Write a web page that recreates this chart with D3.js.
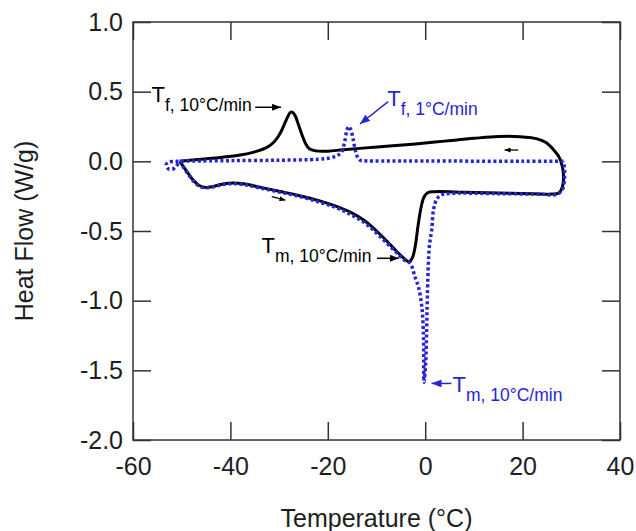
<!DOCTYPE html>
<html>
<head>
<meta charset="utf-8">
<script src="https://cdn.jsdelivr.net/npm/d3@7"></script>
<style>
  body { margin: 0; background: #fff; }
</style>
</head>
<body>
<div id="chart"></div>
<script>
// tick values
var xTicks = [-60, -40, -20, 0, 20, 40]
var yTicks = [-2.0, -1.5, -1.0, -0.5, 0.0, 0.5, 1.0]

// 10°C/min run (solid black): heating from -50 up to 28, then cooling back
var rate10Temp = [-50.4, -49.6, -48.6, -47.5, -46.3, -45, -43.5, -41.5, -39.5, -37, -34, -30, -26, -22, -18.5, -15.4, -12.5, -10, -7.8, -5.9, -4.4, -3.3, -2.6, -2.0, -1.5, -0.9, -0.3, 0.5, 2, 8, 15, 22, 26, 27.5, 28.2, 28.4, 28.1, 27.5,
  26.3, 24.8, 22.8, 19.5, 15, 10, 4, -2, -8, -13.4, -17, -20, -22.5, -23.8, -24.6, -25.3, -26.0, -26.6, -27.2, -27.7, -28.3, -29.0, -29.8, -31, -32.5, -35, -38, -42, -46, -50.4]
var rate10Flow = [0.0, -0.04, -0.09, -0.14, -0.175, -0.188, -0.18, -0.162, -0.155, -0.163, -0.185, -0.215, -0.245, -0.28, -0.32, -0.365, -0.425, -0.5, -0.575, -0.645, -0.695, -0.72, -0.69, -0.6, -0.47, -0.34, -0.26, -0.225, -0.218, -0.222, -0.228, -0.232, -0.235, -0.225, -0.18, -0.1, -0.03, 0.03,
  0.085, 0.135, 0.163, 0.177, 0.178, 0.165, 0.145, 0.125, 0.108, 0.093, 0.083, 0.073, 0.075, 0.09, 0.13, 0.19, 0.26, 0.32, 0.352, 0.35, 0.315, 0.26, 0.2, 0.14, 0.1, 0.068, 0.045, 0.028, 0.015, 0.0]

// 1°C/min run (dotted blue): cooling from 28 down to -53, then heating back
var rate1Temp = [28.4, 20, 5, -5, -12, -13.5, -14.2, -14.8, -15.3, -15.7, -16.1, -16.6, -17.2, -18.2, -19.5, -22, -30, -40, -48, -51, -52.6, -53.2, -52.7, -51.8, -51.0, -50.4,
  -49.6, -48.6, -47.5, -46.3, -45, -43.5, -41.5, -39.5, -37, -34, -30, -26, -22, -18.5, -15.4, -12.5, -10, -7.8, -5.9, -4.2, -3.1, -2.1, -1.4, -0.7, -0.4, -0.3, -0.25,
  0.1, 0.3, 0.45, 0.85, 1.35, 1.7, 2.4, 3.4, 5.1, 15, 24, 27, 28.2, 28.6, 28.6, 28.4]
var rate1Flow = [0.0, 0.0, 0.002, 0.003, 0.003, 0.01, 0.06, 0.16, 0.23, 0.25, 0.22, 0.13, 0.065, 0.04, 0.025, 0.015, 0.008, 0.005, 0.002, 0.0, -0.005, -0.025, -0.055, -0.055, -0.03, 0.0,
  -0.045, -0.095, -0.145, -0.18, -0.19, -0.183, -0.166, -0.16, -0.168, -0.19, -0.22, -0.25, -0.29, -0.33, -0.38, -0.44, -0.515, -0.59, -0.655, -0.71, -0.73, -0.83, -0.9, -1.04, -1.21, -1.4, -1.585,
  -1.45, -1.21, -0.97, -0.61, -0.49, -0.35, -0.27, -0.24, -0.23, -0.232, -0.236, -0.238, -0.2, -0.12, -0.05, 0.0]

/**
 * 常量
 */
var width = 636
var height = 531
var margin = { top: 22, right: 16, bottom: 91, left: 133 }
var black = '#000'
var blue = '#2626d2'
var axisColor = '#333'
var textColor = '#1e1e1e'
var fontFamily = '"Liberation Sans", Arial, Helvetica, sans-serif'
var tickLen = 18

/**
 * 比例尺
 */
var x = d3.scaleLinear()
  .domain([-60, 40])
  .range([margin.left, width - margin.right])

var y = d3.scaleLinear()
  .domain([-2, 1])
  .range([height - margin.bottom, margin.top])

var svg = d3.select('#chart')
  .append('svg')
  .attr('width', width)
  .attr('height', height)
  .style('font-family', fontFamily)

// arrow heads
var defs = svg.append('defs')
function arrowMarker(id, color, w, h) {
  defs.append('marker')
    .attr('id', id)
    .attr('markerUnits', 'userSpaceOnUse')
    .attr('markerWidth', w)
    .attr('markerHeight', h)
    .attr('refX', w)
    .attr('refY', h / 2)
    .attr('orient', 'auto')
    .append('path')
    .attr('d', `M0,0 L${w},${h / 2} L0,${h} Z`)
    .attr('fill', color)
}
arrowMarker('headBlack', black, 9, 7)
arrowMarker('headBlue', blue, 10, 8)
arrowMarker('headSmall', black, 6, 5)

/**
 * 坐标轴 (ticks inward on all four sides)
 */
function styleAxis(g) {
  g.select('.domain').remove()
  g.selectAll('.tick line').attr('stroke', axisColor).attr('stroke-width', 1.5)
  g.selectAll('.tick text')
    .attr('fill', textColor)
    .attr('font-size', 25)
    .attr('font-family', fontFamily)
}

svg.append('g')
  .attr('transform', `translate(0,${y(-2)})`)
  .call(d3.axisBottom(x).tickValues(xTicks).tickSize(-tickLen).tickPadding(17).tickFormat(d => String(d)))
  .call(styleAxis)

svg.append('g')
  .attr('transform', `translate(0,${y(1)})`)
  .call(d3.axisTop(x).tickValues(xTicks).tickSize(-tickLen).tickFormat(''))
  .call(styleAxis)

svg.append('g')
  .attr('transform', `translate(${x(-60)},0)`)
  .call(d3.axisLeft(y).tickValues(yTicks).tickSize(-tickLen).tickPadding(10).tickFormat(d => d.toFixed(1)))
  .call(styleAxis)

svg.append('g')
  .attr('transform', `translate(${x(40)},0)`)
  .call(d3.axisRight(y).tickValues(yTicks).tickSize(-tickLen).tickFormat(''))
  .call(styleAxis)

// frame
svg.append('rect')
  .attr('x', x(-60))
  .attr('y', y(1))
  .attr('width', x(40) - x(-60))
  .attr('height', y(-2) - y(1))
  .attr('fill', 'none')
  .attr('stroke', axisColor)
  .attr('stroke-width', 1.5)

/**
 * 曲线
 */
var line = d3.line()
  .x(d => x(d[0]))
  .y(d => y(d[1]))
  .curve(d3.curveCatmullRom.alpha(0.5))

svg.append('path')
  .attr('d', line(d3.zip(rate10Temp, rate10Flow)))
  .attr('fill', 'none')
  .attr('stroke', black)
  .attr('stroke-width', 3)
  .attr('stroke-linejoin', 'round')

svg.append('path')
  .attr('d', line(d3.zip(rate1Temp, rate1Flow)))
  .attr('fill', 'none')
  .attr('stroke', blue)
  .attr('stroke-width', 3.5)
  .attr('stroke-dasharray', '3,2.6')

/**
 * 标注
 */
var labels = [
  { sub: 'f, 10°C/min', at: [-56.2, 0.428], color: black, from: [-34.9, 0.388], to: [-29.6, 0.388], head: 'headBlack' },
  { sub: 'f, 1°C/min', at: [-7.8, 0.397], color: blue, from: [-7.6, 0.428], to: [-13.4, 0.268], head: 'headBlue' },
  { sub: 'm, 10°C/min', at: [-33.6, -0.66], color: black, from: [-9.9, -0.696], to: [-5.4, -0.696], head: 'headBlack' },
  { sub: 'm, 10°C/min', at: [5.6, -1.654], color: blue, from: [5.4, -1.594], to: [1.3, -1.594], head: 'headBlue' },
]

labels.forEach(item => {
  var t = svg.append('text')
    .attr('x', x(item.at[0]))
    .attr('y', y(item.at[1]))
    .attr('fill', item.color)
    .attr('font-size', 22)
  t.append('tspan').text('T')
  t.append('tspan')
    .attr('dy', 9)
    .attr('font-size', 17.5)
    .text(item.sub)

  svg.append('line')
    .attr('x1', x(item.from[0]))
    .attr('y1', y(item.from[1]))
    .attr('x2', x(item.to[0]))
    .attr('y2', y(item.to[1]))
    .attr('stroke', item.color)
    .attr('stroke-width', 1.5)
    .attr('marker-end', `url(#${item.head})`)
})

// direction arrows (heating / cooling)
var dirArrows = [
  { from: [-31.5, -0.254], to: [-28.7, -0.279] },
  { from: [19.1, 0.081], to: [16.3, 0.081] },
]
dirArrows.forEach(a => {
  svg.append('line')
    .attr('x1', x(a.from[0]))
    .attr('y1', y(a.from[1]))
    .attr('x2', x(a.to[0]))
    .attr('y2', y(a.to[1]))
    .attr('stroke', black)
    .attr('stroke-width', 1.3)
    .attr('marker-end', 'url(#headSmall)')
})

/**
 * 轴标题
 */
svg.append('text')
  .attr('transform', `translate(33, ${(y(1) + y(-2)) / 2}) rotate(-90)`)
  .attr('text-anchor', 'middle')
  .attr('font-size', 25)
  .attr('fill', textColor)
  .text('Heat Flow (W/g)')

svg.append('text')
  .attr('x', (x(-60) + x(40)) / 2)
  .attr('y', 527)
  .attr('text-anchor', 'middle')
  .attr('font-size', 25)
  .attr('fill', textColor)
  .text('Temperature (°C)')
</script>
</body>
</html>
